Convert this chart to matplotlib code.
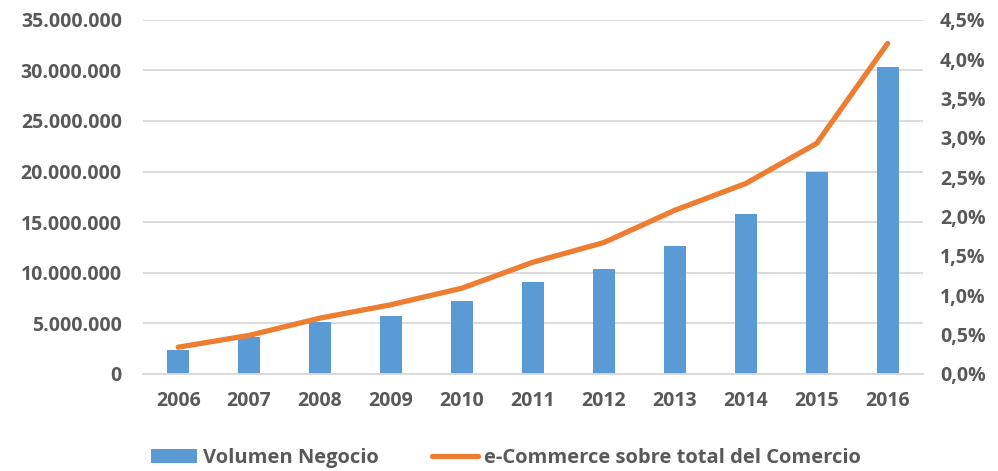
import numpy as np
import matplotlib.pyplot as plt
from matplotlib.ticker import FuncFormatter, MultipleLocator

# data
years = ['2006', '2007', '2008', '2009', '2010', '2011', '2012', '2013', '2014', '2015', '2016']
volumen = [2400000, 3700000, 5100000, 5700000, 7240000, 9120000, 10400000, 12680000, 15840000, 19960000, 30370000]
ecommerce_pct = [0.34, 0.49, 0.71, 0.88, 1.09, 1.42, 1.67, 2.08, 2.42, 2.93, 4.2]

grey = '#595959'
plt.rcParams['font.family'] = ['Open Sans', 'DejaVu Sans']
plt.rcParams['font.weight'] = 'bold'

fig = plt.figure(figsize=(9.98, 4.71), dpi=100)
ax = fig.add_axes([0.143, 0.206, 0.782, 0.752])
x = np.arange(len(years))

ax.bar(x, volumen, width=0.31, color='#5B9BD5', label='Volumen Negocio', zorder=2)
ax.set_ylim(0, 35000000)
ax.set_xlim(-0.5, len(years) - 0.5)
ax.yaxis.set_major_locator(MultipleLocator(5000000))
ax.yaxis.set_major_formatter(FuncFormatter(lambda v, p: f'{int(v):,}'.replace(',', '.')))
ax.grid(axis='y', color='#d9d9d9', linewidth=1.3, zorder=0)
ax.set_xticks(x)
ax.set_xticklabels(years)
for s in ['top', 'right', 'left']:
    ax.spines[s].set_visible(False)
ax.spines['bottom'].set_color('#d9d9d9')
ax.spines['bottom'].set_linewidth(1.3)
ax.tick_params(length=0, colors=grey, labelsize=14)
ax.tick_params(axis='y', pad=15)
ax.tick_params(axis='x', pad=12)

ax2 = ax.twinx()
ax2.plot(x, ecommerce_pct, color='#ED7D31', linewidth=3.8, solid_capstyle='round',
         label='e-Commerce sobre total del Comercio', zorder=3)
ax2.set_ylim(0, 4.5)
ax2.yaxis.set_major_locator(MultipleLocator(0.5))
ax2.yaxis.set_major_formatter(FuncFormatter(lambda v, p: f'{v:.1f}%'.replace('.', ',')))
for s in ax2.spines.values():
    s.set_visible(False)
ax2.tick_params(length=0, colors=grey, labelsize=14, pad=12)

for lbl in ax.get_xticklabels() + ax.get_yticklabels() + ax2.get_yticklabels():
    lbl.set_fontweight('bold')

h1, l1 = ax.get_legend_handles_labels()
h2, l2 = ax2.get_legend_handles_labels()
leg = fig.legend(h1 + h2, l1 + l2, loc='center', bbox_to_anchor=(0.507, 0.028), ncol=2,
                 frameon=False, prop={'size': 14.5, 'weight': 'bold'}, columnspacing=2.6,
                 handlelength=2.3, handletextpad=0.3)
for t in leg.get_texts():
    t.set_color(grey)

fig.savefig('out.png', dpi=100)
